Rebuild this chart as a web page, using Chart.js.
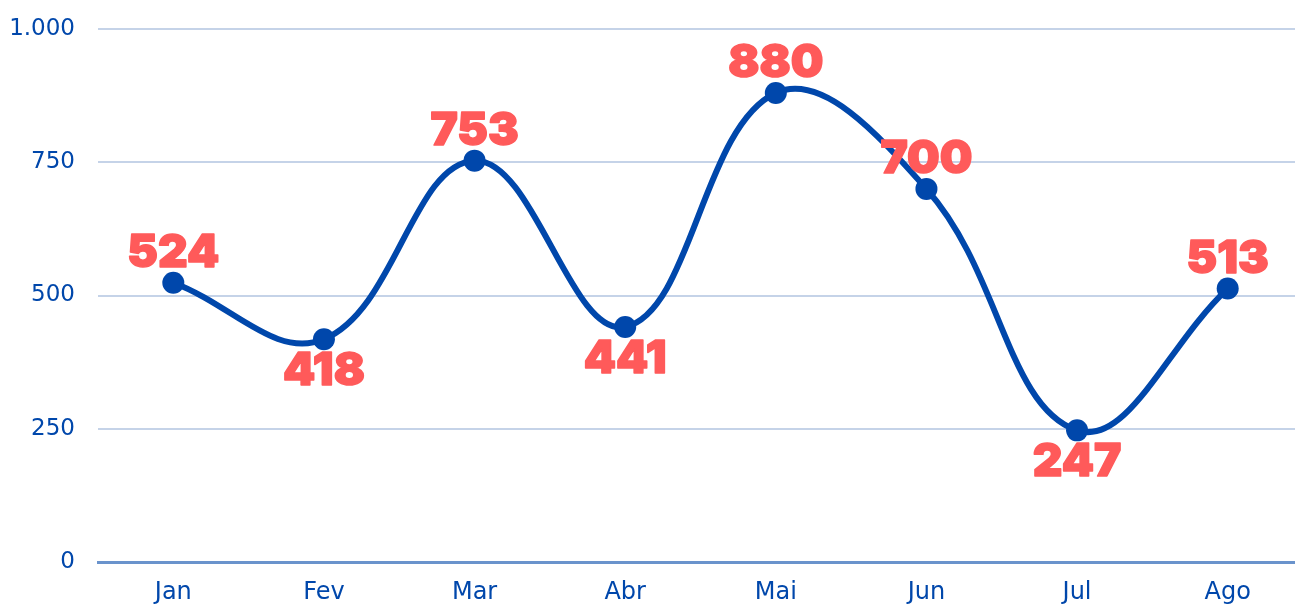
<!DOCTYPE html>
<html lang="pt-BR">
<head>
  <meta charset="UTF-8" />
  <title>Mensal</title>
  <script src="https://cdn.jsdelivr.net/npm/chart.js"></script>
  <style>
    html, body { margin: 0; padding: 0; background: #fff; overflow: hidden; }
    canvas { display: block; }
  </style>
</head>
<body>
  <canvas id="chart" width="1303" height="608"></canvas>
  <script>
    const months = ['Jan', 'Fev', 'Mar', 'Abr', 'Mai', 'Jun', 'Jul', 'Ago'];
    const values = [524, 418, 753, 441, 880, 700, 247, 513];
    const yTicks = [0, 250, 500, 750, 1000];

    const blue = '#0047ab';
    const red = '#ff5a5a';

    function fmt(v) {
      return String(v).replace(/\B(?=(\d{3})+(?!\d))/g, '.');
    }

    // draws the value labels above peaks and below dips
    const valueLabels = {
      id: 'valueLabels',
      afterDatasetsDraw(chart) {
        const ctx = chart.ctx;
        const pts = chart.getDatasetMeta(0).data;
        ctx.save();
        ctx.font = '900 46px Inter, sans-serif';
        ctx.fillStyle = red;
        ctx.strokeStyle = red;
        ctx.lineWidth = 1.5;
        ctx.lineJoin = 'round';
        ctx.textAlign = 'center';
        pts.forEach((p, i) => {
          const prev = i > 0 ? values[i - 1] : -Infinity;
          const next = i < values.length - 1 ? values[i + 1] : -Infinity;
          const dip = values[i] < prev && values[i] < next;
          let y;
          if (dip) {
            ctx.textBaseline = 'top';
            y = p.y + 9;
          } else {
            ctx.textBaseline = 'alphabetic';
            y = p.y - 16;
          }
          ctx.fillText(values[i], p.x, y);
          ctx.strokeText(values[i], p.x, y);
        });
        ctx.restore();
      }
    };

    new Chart(document.getElementById('chart'), {
      type: 'line',
      data: {
        labels: months,
        datasets: [{
          data: values,
          borderColor: blue,
          backgroundColor: blue,
          borderWidth: 6,
          tension: 0.4,
          pointRadius: 11,
          pointHoverRadius: 11,
          pointBackgroundColor: blue,
          pointBorderWidth: 0,
          clip: false
        }]
      },
      options: {
        responsive: false,
        animation: false,
        layout: { autoPadding: false, padding: { top: 29, right: 0, left: 0, bottom: 0 } },
        plugins: {
          legend: { display: false },
          tooltip: { enabled: false }
        },
        scales: {
          x: {
            offset: true,
            grid: { display: false, drawTicks: false },
            border: { color: '#6a93cc', width: 3 },
            ticks: {
              color: blue,
              font: { family: 'DejaVu Sans', size: 24 },
              padding: 16,
              maxRotation: 0
            },
            afterFit(scale) {
              scale.height = 46;
              scale.paddingLeft = 0;
              scale.paddingRight = 0;
            }
          },
          y: {
            min: 0,
            max: 1000,
            afterBuildTicks(scale) { scale.ticks = yTicks.map(v => ({ value: v })); },
            grid: { color: '#c5d3e8', lineWidth: 2, drawTicks: false },
            border: { display: false },
            ticks: {
              color: blue,
              font: { family: 'DejaVu Sans', size: 23 },
              padding: 23,
              callback: v => fmt(v)
            },
            afterFit(scale) {
              scale.width = 98;
              scale.paddingTop = 0;
              scale.paddingBottom = 0;
            }
          }
        }
      },
      plugins: [valueLabels]
    });
  </script>
</body>
</html>
